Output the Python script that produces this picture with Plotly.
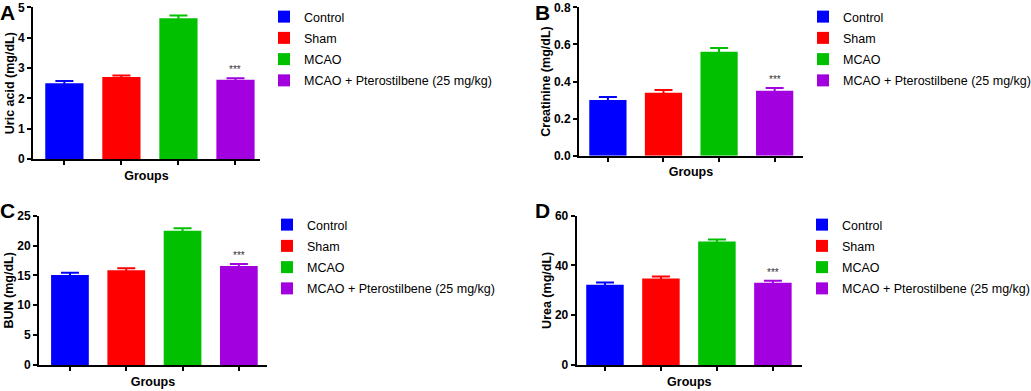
import plotly.graph_objects as go

groups = ["Control", "Sham", "MCAO", "MCAO + Pterostilbene (25 mg/kg)"]
colors = ["#0000FF", "#FF0000", "#00C000", "#A300E0"]

uric_acid = [2.50, 2.70, 4.64, 2.61]
uric_acid_err = [0.07, 0.05, 0.09, 0.05]
creatinine = [0.300, 0.340, 0.561, 0.350]
creatinine_err = [0.016, 0.014, 0.020, 0.015]
bun = [15.07, 15.86, 22.5, 16.58]
bun_err = [0.39, 0.33, 0.40, 0.32]
urea = [32.3, 34.8, 49.6, 33.1]
urea_err = [0.9, 0.8, 0.8, 0.8]

y_titles = ["Uric acid (mg/dL)", "Creatinine (mg/dL)", "BUN (mg/dL)", "Urea (mg/dL)"]
letters = ["A", "B", "C", "D"]
y_ranges = [[0, 5], [0, 0.8], [0, 25], [0, 60]]
y_dticks = [1, 0.2, 5, 20]
y_formats = ["d", ".1f", "d", "d"]

W, H = 1031, 391
# pixel layout of panels: (x_left, x_right, y_top, y_bottom, xrange)
panels = [
    (33, 260, 7.3, 159, [-0.55, 3.43]),
    (579, 803, 7.3, 155.7, [-0.52, 3.51]),
    (39, 267, 215.7, 365, [-0.55, 3.5]),
    (576.7, 802, 215.7, 365, [-0.505, 3.52]),
]
legend_pos = [(264, 2), (803, 2), (267, 210), (802, 210)]
letter_pos = [(-2, -1), (533, -1), (-2, 197), (533, 197)]

FONT = "Liberation Sans, Arial, sans-serif"
datasets = [(uric_acid, uric_acid_err), (creatinine, creatinine_err), (bun, bun_err), (urea, urea_err)]

fig = go.Figure()
layout = dict(
    width=W, height=H, margin=dict(l=0, r=0, t=0, b=0, autoexpand=False),
    plot_bgcolor="white", paper_bgcolor="white",
    barmode="overlay", font=dict(family=FONT, color="black"),
    annotations=[],
)

for p, (vals, errs) in enumerate(datasets):
    idx = "" if p == 0 else str(p + 1)
    xa, ya = "x" + idx, "y" + idx
    leg = "legend" + idx
    for g, name in enumerate(groups):
        fig.add_trace(go.Bar(
            x=[name], y=[vals[g]], name=name,
            marker=dict(color=colors[g], line=dict(width=0)),
            width=0.67,
            error_y=dict(type="data", array=[errs[g]], visible=True,
                         color=colors[g], thickness=2, width=9),
            xaxis=xa, yaxis=ya, legend=leg, showlegend=True,
            legendgroup="p%d_g%d" % (p, g),
        ))
    # significance marker above the treated group
    layout["annotations"].append(dict(
        x=groups[3], y=vals[3] + errs[3], xref=xa, yref=ya,
        text="***", showarrow=False, yanchor="bottom", yshift=1,
        font=dict(size=10, color="#333333", family=FONT),
    ))
    xl, xr, yt, yb, xrange = panels[p]
    layout["xaxis" + idx] = dict(
        domain=[xl / W, xr / W], anchor=ya, type="category",
        categoryorder="array", categoryarray=groups,
        range=xrange, showticklabels=False, automargin=False,
        ticks="outside", ticklen=4, tickwidth=1.5, tickcolor="black",
        showline=True, linecolor="black", linewidth=2, showgrid=False, zeroline=False,
        title=dict(text="<b>Groups</b>", font=dict(size=12.5, family=FONT), standoff=7),
    )
    layout["yaxis" + idx] = dict(
        domain=[1 - yb / H, 1 - yt / H], anchor=xa, automargin=False,
        range=y_ranges[p], dtick=y_dticks[p], tick0=0, tickformat=y_formats[p],
        ticks="outside", ticklen=4, tickwidth=1.5, tickcolor="black",
        tickfont=dict(size=12, family=FONT, weight="bold"),
        showline=True, linecolor="black", linewidth=2, showgrid=False, zeroline=False,
        title=dict(text="<b>" + y_titles[p] + "</b>", font=dict(size=12.5, family=FONT),
                   standoff=1),
    )
    lx, ly = legend_pos[p]
    layout[leg] = dict(
        x=lx / W, y=1 - ly / H, xanchor="left", yanchor="top",
        font=dict(size=12.5, family=FONT, color="black"),
        bgcolor="rgba(0,0,0,0)", borderwidth=0, itemwidth=30,
        tracegroupgap=2,
    )
    cx, cy = letter_pos[p]
    layout["annotations"].append(dict(
        x=cx / W, y=1 - cy / H, xref="paper", yref="paper",
        xanchor="left", yanchor="top", text="<b>" + letters[p] + "</b>",
        showarrow=False, font=dict(size=21, family=FONT, color="black"),
    ))

fig.update_layout(**layout)
fig.write_html(
    "out.html",
    config={"displayModeBar": False},
    post_script="document.body.style.margin='0';document.body.style.overflow='hidden';",
)
